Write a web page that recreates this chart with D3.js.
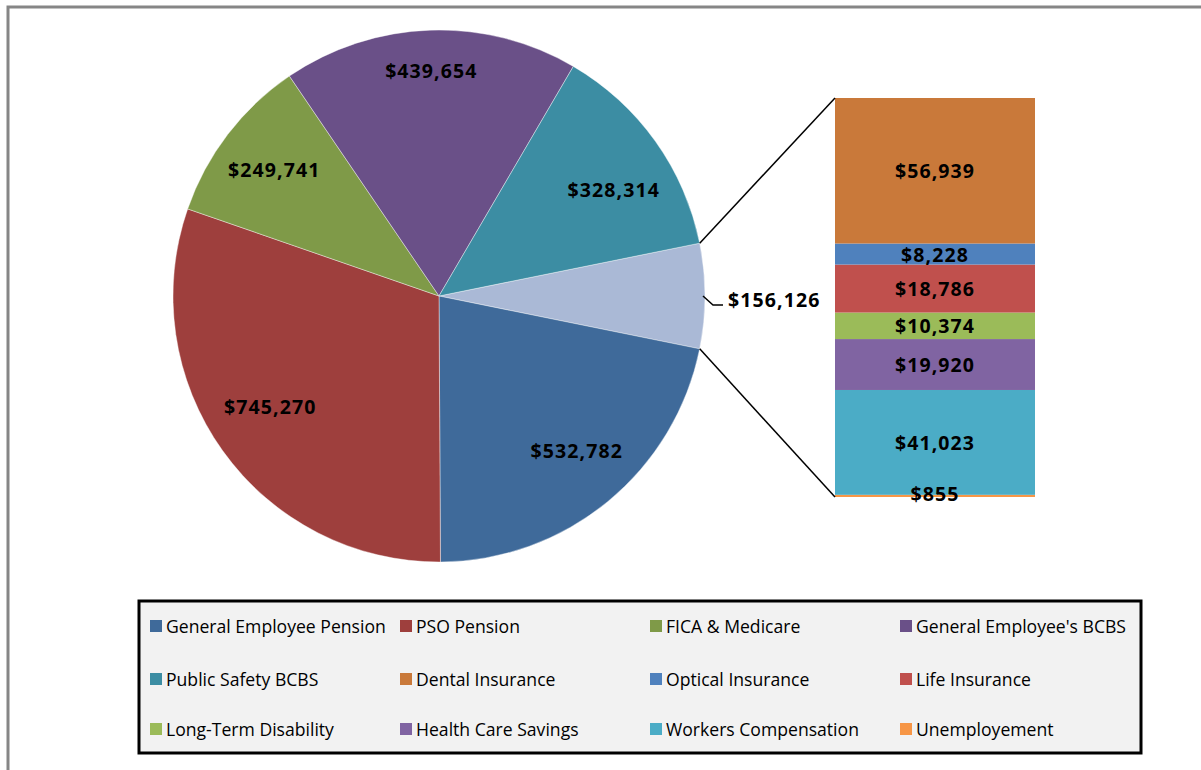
<!DOCTYPE html>
<html>
<head>
<meta charset="utf-8">
<script src="https://cdn.jsdelivr.net/npm/d3@7"></script>
<style>
  body { margin: 0; background: #fff; }
  svg { display: block; }
  .lbl { font-family: "Open Sans", sans-serif; font-weight: bold; font-size: 19.5px; letter-spacing: 1.1px; fill: #000; }
  .leg { font-family: "Open Sans", sans-serif; font-size: 17.6px; fill: #000; }
</style>
</head>
<body>
<svg width="1201" height="770"></svg>
<script>
// pie slices, clockwise starting with the "other" slice on the right
const pieNames = ["Other", "General Employee Pension", "PSO Pension", "FICA & Medicare", "General Employee's BCBS", "Public Safety BCBS"];
const pieValues = [156126, 532782, 745270, 249741, 439654, 328314];
const pieColors = ["#aab9d6", "#3f6a9a", "#9e3f3d", "#7f9a48", "#6a5088", "#3c8da3"];

// stacked bar, bottom to top
const barNames = ["Unemployement", "Workers Compensation", "Health Care Savings", "Long-Term Disability", "Life Insurance", "Optical Insurance", "Dental Insurance"];
const barValues = [855, 41023, 19920, 10374, 18786, 8228, 56939];
const barColors = ["#f79646", "#4bacc6", "#8064a2", "#9bbb59", "#c0504d", "#4f81bd", "#c9793a"];

const legendOrder = ["General Employee Pension", "PSO Pension", "FICA & Medicare", "General Employee's BCBS",
  "Public Safety BCBS", "Dental Insurance", "Optical Insurance", "Life Insurance",
  "Long-Term Disability", "Health Care Savings", "Workers Compensation", "Unemployement"];

const fmt = d3.format("$,");
const svg = d3.select("svg");

// chart area frame
svg.append("rect")
  .attr("x", 8).attr("y", 7).attr("width", 1250).attr("height", 800)
  .attr("fill", "#fff").attr("stroke", "#868686").attr("stroke-width", 3);

const cx = 439, cy = 296, R = 266;
const total = d3.sum(pieValues);
const start = Math.PI / 2 - Math.PI * pieValues[0] / total;

const pie = d3.pie().sort(null).startAngle(start).endAngle(start + 2 * Math.PI);
const arcs = pie(pieValues);
const arc = d3.arc().innerRadius(0).outerRadius(R);

const g = svg.append("g").attr("transform", `translate(${cx},${cy})`);
g.selectAll("path.slice")
  .data(arcs)
  .join("path")
  .attr("class", "slice")
  .attr("d", arc)
  .attr("fill", (d, i) => pieColors[i])
  .attr("stroke", "#fff").attr("stroke-width", 0.4);

// labels on slices (skip "other", it gets a leader)
const labelR = i => pieNames[i] === "General Employee's BCBS" ? 0.85 * R : 0.78 * R;
// excel nudges a couple of labels a little off the centroid
const nudge = { "PSO Pension": [0, -10], "Public Safety BCBS": [6, 14], "General Employee Pension": [6, -6] };
const lx = (d, i) => labelR(i + 1) * Math.sin((d.startAngle + d.endAngle) / 2) + (nudge[pieNames[i + 1]] || [0, 0])[0];
const ly = (d, i) => -labelR(i + 1) * Math.cos((d.startAngle + d.endAngle) / 2) + (nudge[pieNames[i + 1]] || [0, 0])[1];
g.selectAll("text.lbl")
  .data(arcs.slice(1))
  .join("text")
  .attr("class", "lbl")
  .attr("text-anchor", "middle")
  .attr("dominant-baseline", "central")
  .attr("x", lx)
  .attr("y", ly)
  .text(d => fmt(d.value));

// other slice label with leader
const oMid = (arcs[0].startAngle + arcs[0].endAngle) / 2;
const ox = R * Math.sin(oMid), oy = -R * Math.cos(oMid);
g.append("path")
  .attr("d", `M${ox - 2},${oy} L${ox + 8},${oy + 9} L${ox + 18},${oy + 9}`)
  .attr("fill", "none").attr("stroke", "#000").attr("stroke-width", 1.5);
g.append("text")
  .attr("class", "lbl")
  .attr("x", ox + 23).attr("y", oy + 3)
  .attr("dominant-baseline", "central")
  .text(fmt(arcs[0].value));

// stacked bar
const barX = 835, barW = 200;
const y = d3.scaleLinear().domain([0, d3.sum(barValues)]).range([497, 98]);
const cum = d3.cumsum(barValues);
const segs = barValues.map((v, i) => ({ v, y0: cum[i] - v, y1: cum[i], i }));

svg.selectAll("rect.seg")
  .data(segs)
  .join("rect")
  .attr("class", "seg")
  .attr("x", barX).attr("width", barW)
  .attr("y", d => y(d.y1))
  .attr("height", d => y(d.y0) - y(d.y1))
  .attr("fill", d => barColors[d.i]);

svg.selectAll("text.seglbl")
  .data(segs)
  .join("text")
  .attr("class", "lbl seglbl")
  .attr("text-anchor", "middle")
  .attr("dominant-baseline", "central")
  .attr("x", barX + barW / 2)
  .attr("y", d => (y(d.y0) + y(d.y1)) / 2 - (d.i === 0 ? 2 : 0))
  .text(d => fmt(d.v));

// connector lines from the "other" slice edges to the bar corners
const edgePt = a => [cx + R * Math.sin(a), cy - R * Math.cos(a)];
const pTop = edgePt(arcs[0].startAngle), pBot = edgePt(arcs[0].endAngle);
svg.append("line")
  .attr("x1", pTop[0]).attr("y1", pTop[1]).attr("x2", barX).attr("y2", y.range()[1])
  .attr("stroke", "#000").attr("stroke-width", 1.5);
svg.append("line")
  .attr("x1", pBot[0]).attr("y1", pBot[1]).attr("x2", barX).attr("y2", y.range()[0])
  .attr("stroke", "#000").attr("stroke-width", 1.5);

// legend
const colorOf = name => {
  const p = pieNames.indexOf(name);
  return p >= 0 ? pieColors[p] : barColors[barNames.indexOf(name)];
};
svg.append("rect")
  .attr("x", 139).attr("y", 601).attr("width", 1002).attr("height", 152)
  .attr("fill", "#f2f2f2").attr("stroke", "#000").attr("stroke-width", 3);

const colX = [150, 400, 650, 900];
const rowY = [626, 679, 729];
const leg = svg.selectAll("g.legItem")
  .data(legendOrder)
  .join("g")
  .attr("class", "legItem")
  .attr("transform", (d, i) => `translate(${colX[i % 4]},${rowY[Math.floor(i / 4)]})`);
leg.append("rect")
  .attr("x", 0).attr("y", -6).attr("width", 12).attr("height", 12)
  .attr("fill", d => colorOf(d));
leg.append("text")
  .attr("class", "leg")
  .attr("x", 16).attr("dominant-baseline", "central")
  .text(d => d);
</script>
</body>
</html>
